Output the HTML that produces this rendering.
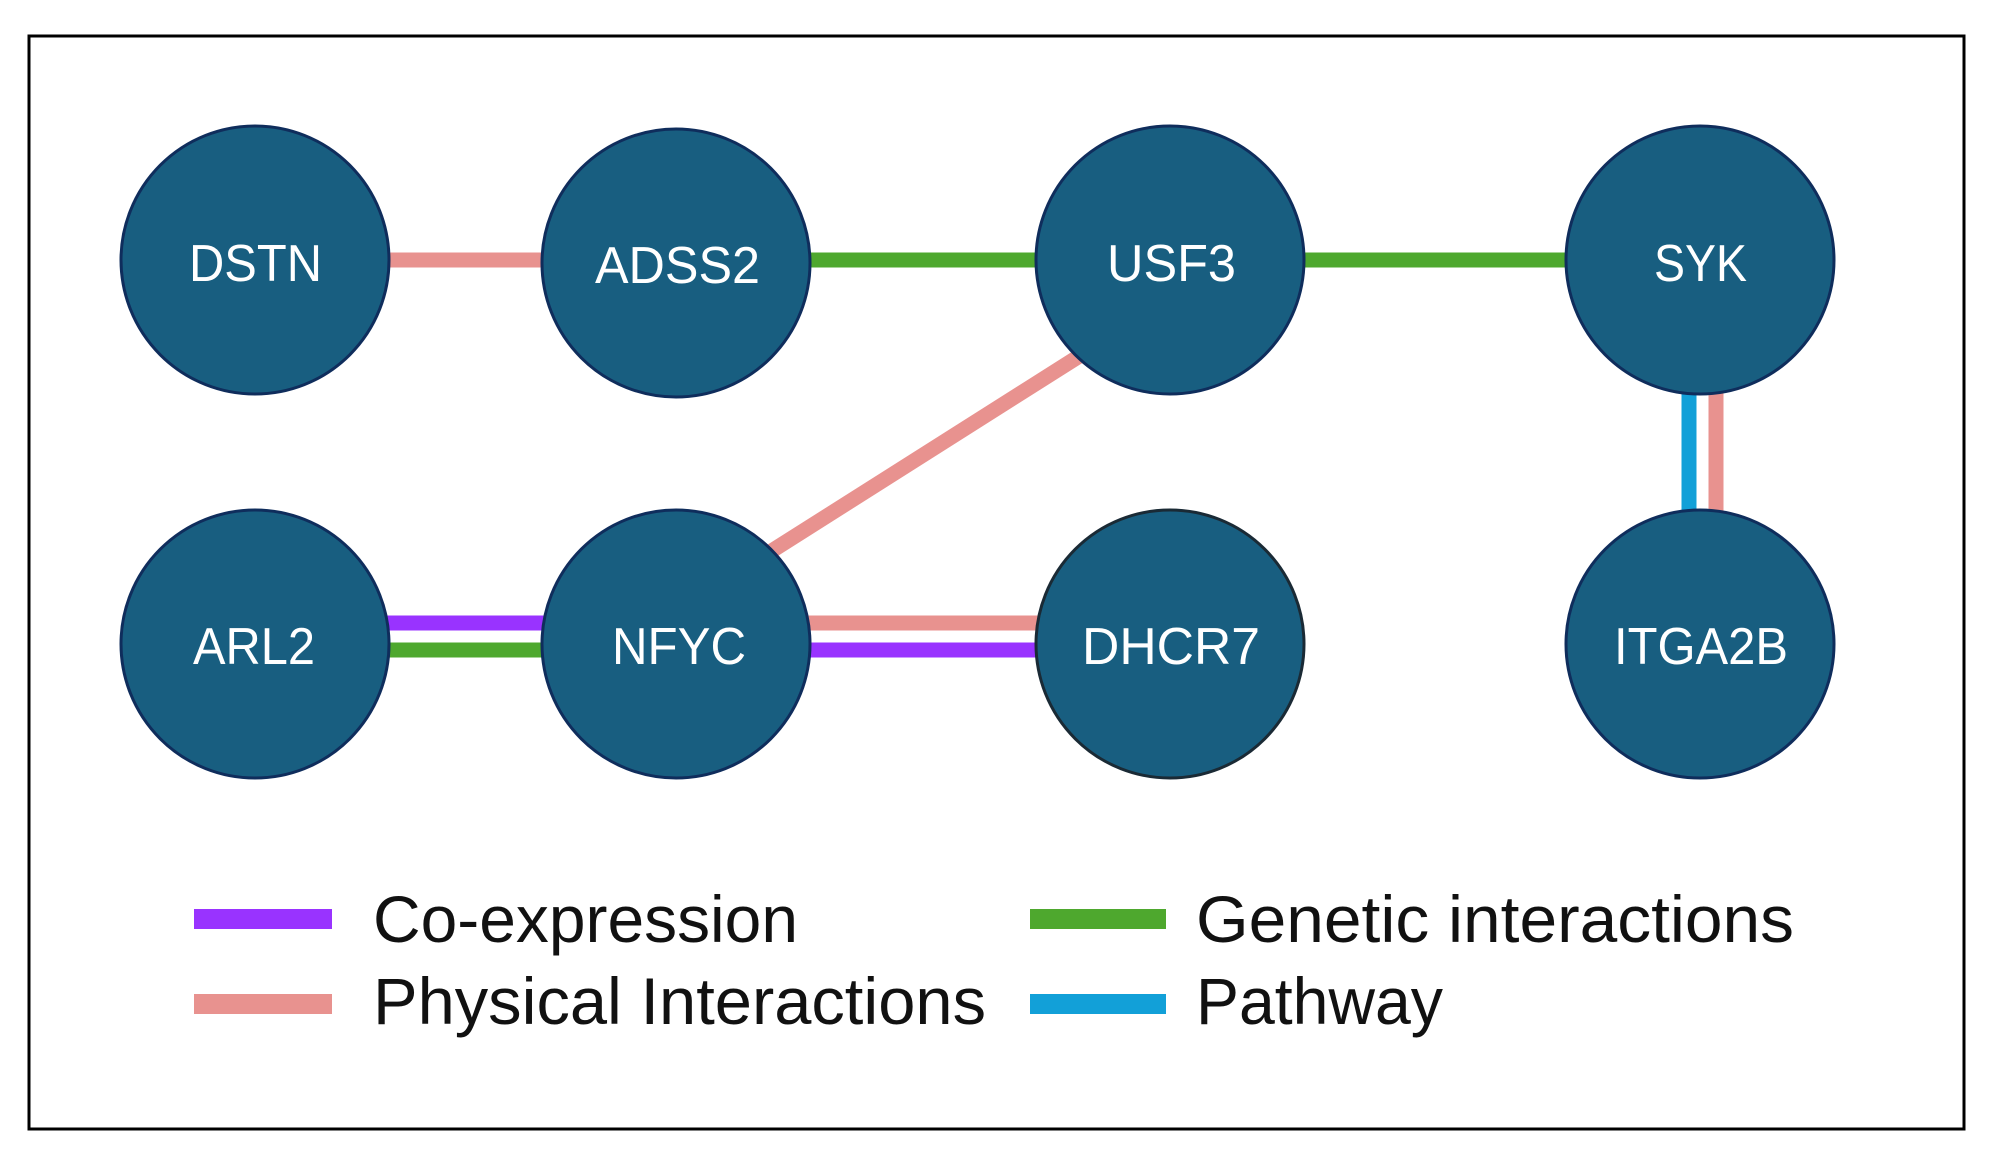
<!DOCTYPE html>
<html><head><style>html,body{margin:0;padding:0;background:#fff}svg{display:block}</style></head>
<body>
<svg width="1997" height="1162" viewBox="0 0 1997 1162" xmlns="http://www.w3.org/2000/svg" font-family="Liberation Sans, sans-serif">
<rect x="0" y="0" width="1997" height="1162" fill="#fff"/>
<rect x="29" y="36" width="1935" height="1093" fill="none" stroke="#000" stroke-width="3"/>
<g stroke-width="15">
<line x1="380" y1="260" x2="560" y2="260" stroke="#e8928f"/>
<line x1="800" y1="260" x2="1060" y2="260" stroke="#4ea82e"/>
<line x1="1290" y1="260" x2="1590" y2="260" stroke="#4ea82e"/>
<line x1="1081" y1="355" x2="770" y2="552" stroke="#e8928f"/>
<line x1="380" y1="623" x2="560" y2="623" stroke="#9933ff"/>
<line x1="380" y1="650" x2="560" y2="650" stroke="#4ea82e"/>
<line x1="800" y1="623" x2="1060" y2="623" stroke="#e8928f"/>
<line x1="800" y1="650" x2="1060" y2="650" stroke="#9933ff"/>
<line x1="1689" y1="380" x2="1689" y2="520" stroke="#12a0d8"/>
<line x1="1716" y1="380" x2="1716" y2="520" stroke="#e8928f"/>
</g>
<g fill="#185e80" stroke="#0f2d5c" stroke-width="3">
<circle cx="255" cy="260" r="134"/>
<circle cx="676" cy="263" r="134"/>
<circle cx="1170" cy="260" r="134"/>
<circle cx="1700" cy="260" r="134"/>
<circle cx="255" cy="644" r="134"/>
<circle cx="676" cy="644" r="134"/>
<circle cx="1170" cy="644" r="134" stroke="#1a2a35"/>
<circle cx="1700" cy="644" r="134"/>
</g>
<g fill="#fff" font-size="52">
<text x="189" y="281" textLength="133" lengthAdjust="spacingAndGlyphs">DSTN</text>
<text x="595" y="283" textLength="165" lengthAdjust="spacingAndGlyphs">ADSS2</text>
<text x="1107" y="281" textLength="129" lengthAdjust="spacingAndGlyphs">USF3</text>
<text x="1654" y="281" textLength="93" lengthAdjust="spacingAndGlyphs">SYK</text>
<text x="193" y="664" textLength="122" lengthAdjust="spacingAndGlyphs">ARL2</text>
<text x="612" y="664" textLength="134" lengthAdjust="spacingAndGlyphs">NFYC</text>
<text x="1082" y="664" textLength="178" lengthAdjust="spacingAndGlyphs">DHCR7</text>
<text x="1614" y="664" textLength="174" lengthAdjust="spacingAndGlyphs">ITGA2B</text>
</g>
<g stroke-width="20">
<line x1="194" y1="919" x2="332" y2="919" stroke="#9933ff"/>
<line x1="194" y1="1004" x2="332" y2="1004" stroke="#e8928f"/>
<line x1="1030" y1="919" x2="1166" y2="919" stroke="#4ea82e"/>
<line x1="1030" y1="1004" x2="1166" y2="1004" stroke="#12a0d8"/>
</g>
<g fill="#111" font-size="66">
<text x="373" y="942" textLength="425" lengthAdjust="spacingAndGlyphs">Co-expression</text>
<text x="373" y="1024" textLength="613" lengthAdjust="spacingAndGlyphs">Physical Interactions</text>
<text x="1196" y="942" textLength="598" lengthAdjust="spacingAndGlyphs">Genetic interactions</text>
<text x="1196" y="1024" textLength="247" lengthAdjust="spacingAndGlyphs">Pathway</text>
</g>
</svg>
</body></html>
